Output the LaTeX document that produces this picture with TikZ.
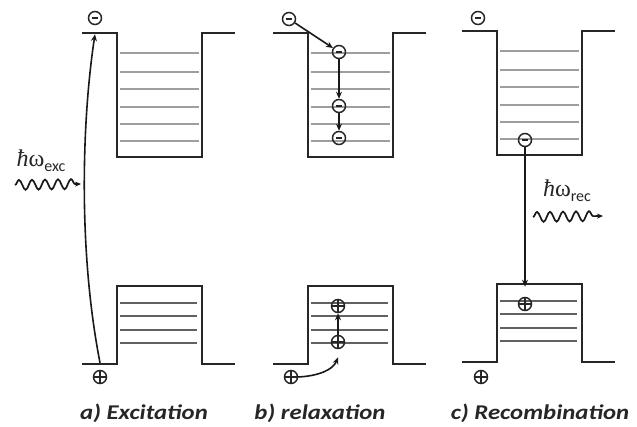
\documentclass[tikz,border=0pt]{standalone}
\usepackage{fontspec}
\setmainfont{Carlito}
\newfontfamily\serifit{Liberation Serif}
\usetikzlibrary{decorations.pathmorphing,arrows.meta}
\newcommand\qwells{%
  \draw[band] (82,33) -- (117,33) -- (117,157) -- (202,157) -- (202,33) -- (235,33);
  \foreach \yy in {53,72,89,107,124,141} \draw[clev] (120,\yy) -- (199,\yy);
  \draw[band] (82,364) -- (117,364) -- (117,286) -- (202,286) -- (202,364) -- (235,364);
  \foreach \yy in {303,316,330,343} \draw[vlev] (120,\yy) -- (197,\yy);
}
\begin{document}
\begin{tikzpicture}[x=1pt,y=-1pt,
  band/.style={line width=2.3pt, black!85},
  clev/.style={line width=1.9pt, black!38},
  vlev/.style={line width=1.9pt, black!62},
  elec/.style={circle, draw=black!85, line width=1.5pt, minimum size=13pt, inner sep=0pt,
    path picture={\draw[line width=1.2pt] ([xshift=-3pt]path picture bounding box.center) -- ([xshift=3pt]path picture bounding box.center);}},
  hole/.style={circle, draw=black!85, line width=1.5pt, minimum size=13pt, inner sep=0pt,
    path picture={\draw[line width=1.2pt] ([xshift=-6pt]path picture bounding box.center) -- ([xshift=6pt]path picture bounding box.center);
      \draw[line width=1.2pt] ([yshift=-6pt]path picture bounding box.center) -- ([yshift=6pt]path picture bounding box.center);}},
  arr/.style={line width=1.6pt, black!90, -{Stealth[length=7pt,width=6pt]}},
  wave/.style={line width=1.7pt, black!90, -{Stealth[length=6pt,width=5pt]},
    decorate, decoration={snake, amplitude=5pt, segment length=13pt, post length=5pt}},
  captext/.style={font=\fontsize{21}{23}\selectfont\bfseries\itshape, inner sep=0pt, text=black!85},
  hw/.style={inner sep=0pt, text=black!85}
]
\useasboundingbox (0,0) rectangle (637,427);

% wells
\begin{scope}\qwells\end{scope}
\begin{scope}[xshift=191pt]\qwells\end{scope}
\begin{scope}[xshift=380pt, yshift=2pt]\qwells\end{scope}

% panel a
\node[elec] (ea) at (95,18) {};
\node[hole] (ha) at (100,377) {};
\draw[arr] ([yshift=7pt]ha.north) .. controls (78,250) and (82,120) .. ([yshift=-9pt]ea.south);
\node[hw] (hwa) at (41,161) {\serifit\fontsize{24}{24}\selectfont\textit{ħ}ω\raisebox{-5pt}{\fontsize{16}{16}\rmfamily exc}};
\coordinate (wa0) at (15,185);
\coordinate (wa1) at (81,184);
\draw[wave] (wa0) -- (wa1);
\node[captext] (la) at (144,413) {\scalebox{1.18}[1]{a) Excitation}};

% panel b
\node[elec] (eb1) at (289,19) {};
\node[elec] (eb2) at (339,52) {};
\node[elec] (eb3) at (339,106) {};
\node[elec] (eb4) at (339,138) {};
\draw[arr] (eb1) -- (eb2);
\draw[arr] (eb2) -- (eb3);
\draw[arr] (eb3) -- (eb4);
\node[hole] (hb2) at (338,306) {};
\node[hole] (hb1) at (338,342) {};
\node[hole] (hb0) at (291,377) {};
\draw[arr] (hb1) -- (hb2);
\draw[arr] (hb0.east) .. controls (318,376) and (333,370) .. ([yshift=-8pt]hb1.south);
\node[captext] (lb) at (320,413) {\scalebox{1.18}[1]{b) relaxation}};

% panel c
\node[elec] (ec1) at (478,18) {};
\node[elec] (ec2) at (525,140) {};
\node[hole] (hc1) at (525,304) {};
\node[hole] (hc2) at (481,377) {};
\draw[arr] (ec2) -- ([yshift=10pt]hc1.north);
\node[hw] (hwc) at (567,191) {\serifit\fontsize{24}{24}\selectfont\textit{ħ}ω\raisebox{-5pt}{\fontsize{16}{16}\rmfamily rec}};
\coordinate (wc0) at (533,217);
\coordinate (wc1) at (603,216);
\draw[wave] (wc0) -- (wc1);
\node[captext] (lc) at (540,413) {\scalebox{1.18}[1]{c) Recombination}};
\end{tikzpicture}
\end{document}
